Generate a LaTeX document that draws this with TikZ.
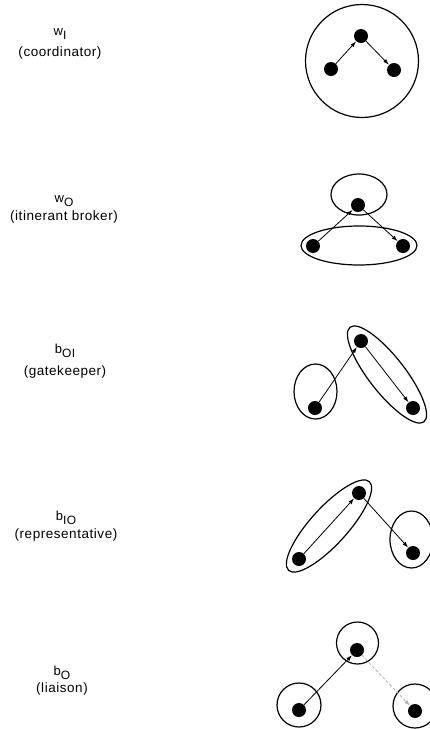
\documentclass[tikz,border=0pt]{standalone}
\usepackage{fontspec}
\setmainfont{Liberation Sans}
\newfontfamily\spaced[LetterSpace=4]{Liberation Sans}
\usetikzlibrary{arrows.meta,shapes.geometric}
\tikzset{
  dot/.style={circle,fill=black,inner sep=0pt,minimum size=14pt},
  ring/.style={draw=black,line width=1.2pt,ellipse,inner sep=0pt},
  arr/.style={-{Latex[length=6pt,width=4pt]},line width=0.8pt},
  faint/.style={-{Latex[length=6pt,width=4pt]},line width=0.8pt,draw=gray!60,dash pattern=on 3pt off 2pt},
  ttl/.style={anchor=base,inner sep=0pt,font=\spaced\fontsize{13}{13}\selectfont},
  role/.style={anchor=base,inner sep=0pt,font=\spaced\fontsize{13.5}{14}\selectfont}
}
\newcommand{\lbl}[2]{#1\raisebox{-4pt}{\fontsize{12}{12}\selectfont #2}}
\begin{document}
\begin{tikzpicture}[x=1pt,y=-1pt]
\useasboundingbox (0,0) rectangle (430,729);
% ---- panel 1: coordinator
\node[ttl] (t1) at (60,35) {\lbl{w}{I}};
\node[role] (r1) at (60,56) {(coordinator)};
\node[ring,minimum width=113pt,minimum height=113pt] (e1) at (362,61) {};
\node[dot] (a1) at (331,69) {};
\node[dot] (b1) at (361,36) {};
\node[dot] (c1) at (394,70) {};
\draw[arr] (a1) -- (b1);
\draw[arr] (b1) -- (c1);
% ---- panel 2: itinerant broker
\node[ttl] (t2) at (64,202) {\lbl{w}{O}};
\node[role] (r2) at (64,220) {(itinerant broker)};
\node[ring,minimum width=56pt,minimum height=41pt] (e2a) at (359,194.5) {};
\node[ring,minimum width=116pt,minimum height=39pt] (e2b) at (359,245.5) {};
\node[dot] (a2) at (313,246) {};
\node[dot] (b2) at (358,205) {};
\node[dot] (c2) at (403,246) {};
\draw[arr] (a2) -- (b2);
\draw[arr] (b2) -- (c2);
% ---- panel 3: gatekeeper
\node[ttl] (t3) at (65,353) {\lbl{b}{OI}};
\node[role] (r3) at (65,375) {(gatekeeper)};
\node[ring,minimum width=43pt,minimum height=55pt] (e3a) at (315.5,391.5) {};
\node[ring,minimum width=120pt,minimum height=36pt,rotate=-52] (e3b) at (387,374.5) {};
\node[dot] (a3) at (315,408) {};
\node[dot] (b3) at (361,341) {};
\node[dot] (c3) at (413,408) {};
\draw[arr] (a3) -- (b3);
\draw[arr] (b3) -- (c3);
% ---- panel 4: representative
\node[ttl] (t4) at (66,520) {\lbl{b}{IO}};
\node[role] (r4) at (66,538) {(representative)};
\node[ring,minimum width=120pt,minimum height=37pt,rotate=47.7] (e4a) at (329,526) {};
\node[ring,minimum width=43pt,minimum height=57pt] (e4b) at (411.5,539.5) {};
\node[dot] (a4) at (299,559) {};
\node[dot] (b4) at (359,493) {};
\node[dot] (c4) at (413,553) {};
\draw[arr] (a4) -- (b4);
\draw[arr] (b4) -- (c4);
% ---- panel 5: liaison
\node[ttl] (t5) at (62,675) {\lbl{b}{O}};
\node[role] (r5) at (62,692) {(liaison)};
\node[ring,minimum width=42pt,minimum height=42pt] (e5a) at (357.5,643) {};
\node[ring,minimum width=44pt,minimum height=44pt] (e5b) at (299,705) {};
\node[ring,minimum width=44pt,minimum height=44pt] (e5c) at (415,706) {};
\node[dot] (a5) at (299,710) {};
\node[dot] (b5) at (357,650) {};
\node[dot] (c5) at (415,711) {};
\draw[arr] (a5) -- (b5);
\draw[faint] (b5) -- (c5);
\end{tikzpicture}
\end{document}
